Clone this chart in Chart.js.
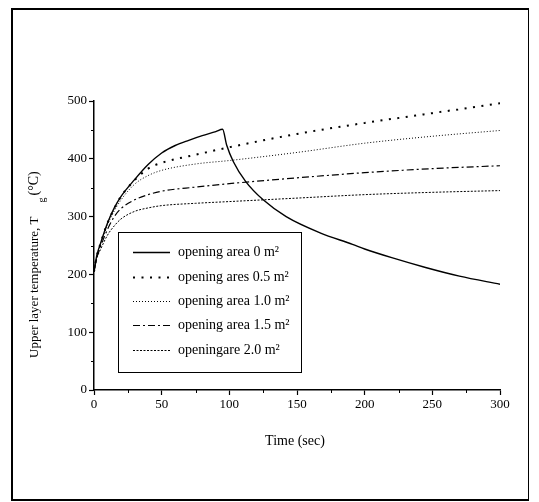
<!DOCTYPE html>
<html lang="en">
<head>
  <meta charset="UTF-8" />
  <title>Upper layer temperature</title>
  <script src="https://cdn.jsdelivr.net/npm/chart.js"></script>
  <style>
    * { margin: 0; padding: 0; box-sizing: border-box; }
    body { background: #fff; width: 539px; height: 502px; overflow: hidden; }
    .wrap { position: relative; width: 539px; height: 502px; }
    .frame {
      position: absolute;
      left: 11px; top: 8px;
      width: 518px; height: 493px;
      border: 2px solid #000;
      border-right-width: 1px;
      pointer-events: none;
    }
    canvas { position: absolute; left: 0; top: 0; }
  </style>
</head>
<body>
  <div class="wrap">
    <canvas id="chart" width="539" height="502"></canvas>
    <div class="frame"></div>
  </div>

  <script>
    // times (sec) for the "0 m2" run, which peaks and then decays
    const closedTime = [0, 2, 5, 10, 15, 20, 30, 40, 50, 60, 70, 80, 90, 95, 98, 103, 112, 125, 142, 167, 191, 200, 220, 245, 270, 300];
    const area0 = [205, 232, 255, 289, 315, 335, 364, 390, 410, 423, 432, 440, 447, 451, 424, 395, 361, 329, 300, 272, 252, 244, 229, 212, 197, 183];

    // times (sec) shared by the vented runs
    const ventTime = [0, 2, 5, 10, 15, 20, 30, 40, 50, 75, 100, 150, 200, 250, 300];
    const area05 = [205, 231, 255, 289, 314, 335, 363, 383, 393, 407, 420, 443, 462, 479, 496];
    const area10 = [205, 229, 253, 286, 310, 329, 356, 371, 380, 391, 397, 411, 427, 439, 449];
    const area15 = [205, 228, 249, 278, 300, 314, 329, 338, 344, 351, 357, 367, 376, 383, 388];
    const area20 = [205, 227, 244, 268, 284, 296, 309, 315, 319, 323, 326, 332, 338, 342, 345];

    const legendLabels = ['opening area 0 m²', 'opening ares 0.5 m²', 'opening area 1.0 m²', 'opening area 1.5 m²', 'openingare 2.0 m²'];
    const xTicks = [0, 50, 100, 150, 200, 250, 300];
    const yTicks = [0, 100, 200, 300, 400, 500];

    const SERIF = '"Liberation Serif", "DejaVu Serif", serif';

    function pts(xs, ys) {
      return xs.map((x, i) => ({ x: x, y: ys[i] }));
    }

    const styles = [
      { dash: [], width: 1.4 },
      { dash: [2, 6.5], width: 2 },
      { dash: [1, 2], width: 1 },
      { dash: [7, 3, 2, 3], width: 1.2 },
      { dash: [2, 1.5], width: 1 }
    ];

    const series = [
      pts(closedTime, area0),
      pts(ventTime, area05),
      pts(ventTime, area10),
      pts(ventTime, area15),
      pts(ventTime, area20)
    ];

    const datasets = series.map((d, i) => ({
      label: legendLabels[i],
      data: d,
      borderColor: '#000',
      borderWidth: styles[i].width,
      borderDash: styles[i].dash,
      pointRadius: 0,
      fill: false,
      tension: 0.35,
      cubicInterpolationMode: 'monotone'
    }));

    // titles, minor ticks and the boxed legend
    const extras = {
      id: 'extras',
      afterDraw(chart) {
        const ctx = chart.ctx;
        const xs = chart.scales.x;
        const ys = chart.scales.y;
        const area = chart.chartArea;

        ctx.save();
        ctx.strokeStyle = '#000';
        ctx.lineWidth = 1;
        for (let v = 25; v < 300; v += 50) {
          const px = Math.round(xs.getPixelForValue(v)) + 0.5;
          ctx.beginPath();
          ctx.moveTo(px, area.bottom);
          ctx.lineTo(px, area.bottom + 3);
          ctx.stroke();
        }
        for (let v = 50; v < 500; v += 100) {
          const py = Math.round(ys.getPixelForValue(v)) + 0.5;
          ctx.beginPath();
          ctx.moveTo(area.left, py);
          ctx.lineTo(area.left - 3, py);
          ctx.stroke();
        }

        // x title
        ctx.fillStyle = '#000';
        ctx.font = '14px ' + SERIF;
        ctx.textAlign = 'center';
        ctx.textBaseline = 'middle';
        ctx.fillText('Time (sec)', 295, 441);

        // y title with subscript g
        ctx.save();
        ctx.translate(38, 358);
        ctx.rotate(-Math.PI / 2);
        ctx.textAlign = 'left';
        ctx.textBaseline = 'alphabetic';
        ctx.font = '13px ' + SERIF;
        const main = 'Upper layer temperature, T';
        ctx.fillText(main, 0, 0);
        let w = ctx.measureText(main).width;
        ctx.font = '10px ' + SERIF;
        ctx.fillText('g', w + 14, 7);
        const gw = ctx.measureText('g').width;
        ctx.font = '14px ' + SERIF;
        ctx.fillText('(°C)', w + 14 + gw + 2, 0);
        ctx.restore();

        // legend box
        const box = { left: 118.5, top: 232.5, right: 301.5, bottom: 372.5 };
        ctx.lineWidth = 1;
        ctx.strokeRect(box.left, box.top, box.right - box.left, box.bottom - box.top);
        const rowY = [252, 277, 301, 325, 350];
        chart.data.datasets.forEach((ds, i) => {
          ctx.save();
          ctx.setLineDash(ds.borderDash);
          ctx.lineWidth = ds.borderWidth;
          ctx.beginPath();
          ctx.moveTo(133, rowY[i] + 0.5);
          ctx.lineTo(170, rowY[i] + 0.5);
          ctx.stroke();
          ctx.restore();
          ctx.font = '14px ' + SERIF;
          ctx.textAlign = 'left';
          ctx.textBaseline = 'middle';
          ctx.fillText(ds.label, 178, rowY[i]);
        });
        ctx.restore();
      }
    };

    new Chart(document.getElementById('chart').getContext('2d'), {
      type: 'line',
      data: { datasets: datasets },
      options: {
        responsive: false,
        devicePixelRatio: 1,
        animation: false,
        layout: { padding: { left: 0, top: 101, right: 39, bottom: 0 } },
        plugins: {
          legend: { display: false },
          tooltip: { enabled: false }
        },
        scales: {
          x: {
            type: 'linear',
            min: 0,
            max: 300,
            afterFit: s => { s.height = 112; },
            afterBuildTicks: s => { s.ticks = xTicks.map(v => ({ value: v })); },
            ticks: { color: '#000', font: { family: SERIF, size: 13 }, padding: 2, maxRotation: 0 },
            grid: { drawOnChartArea: false, drawTicks: true, tickLength: 5, color: '#000', tickWidth: 1.2 },
            border: { color: '#000', width: 1.5 }
          },
          y: {
            min: 0,
            max: 500,
            afterFit: s => { s.width = 94; },
            afterBuildTicks: s => { s.ticks = yTicks.map(v => ({ value: v })); },
            ticks: { color: '#000', font: { family: SERIF, size: 13 }, padding: 2 },
            grid: { drawOnChartArea: false, drawTicks: true, tickLength: 5, color: '#000', tickWidth: 1.2 },
            border: { color: '#000', width: 1.5 }
          }
        }
      },
      plugins: [extras]
    });
  </script>
</body>
</html>
